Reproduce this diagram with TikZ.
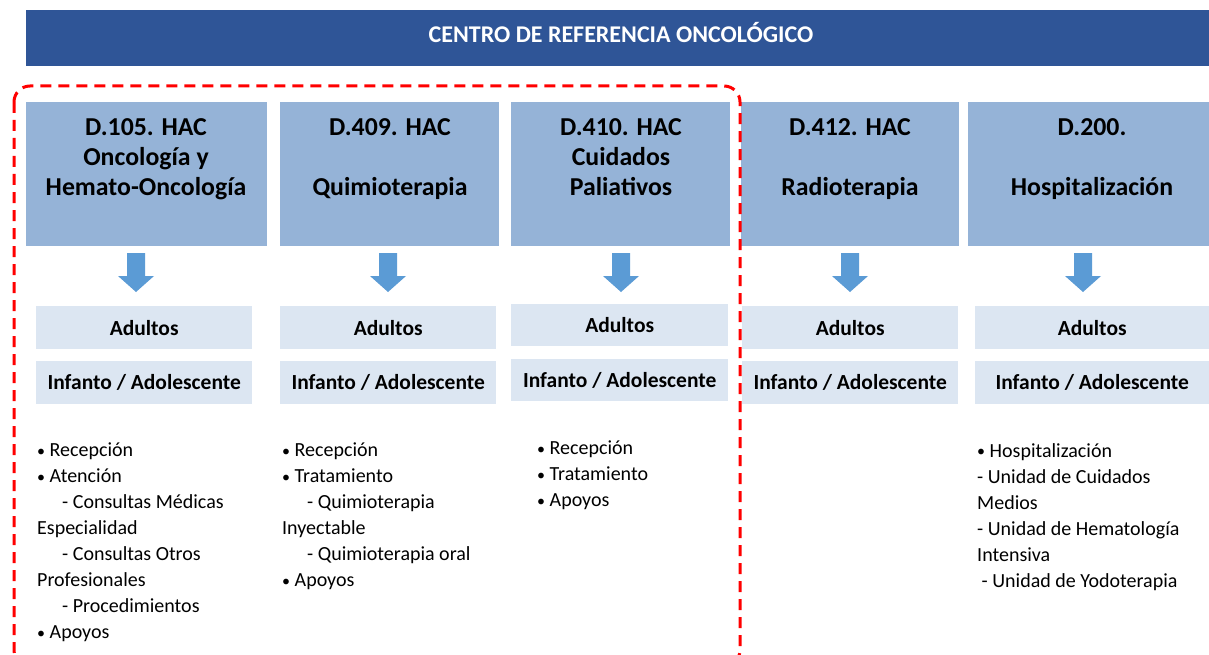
\documentclass[tikz,border=0pt]{standalone}
\usepackage{fontspec}
\setmainfont{Carlito}
\usetikzlibrary{calc}
\definecolor{titlebg}{HTML}{2F5597}
\definecolor{topbox}{HTML}{95B3D7}
\definecolor{subbox}{HTML}{DCE6F2}
\definecolor{arrowc}{HTML}{5B9BD5}
\tikzset{
  unitbox/.style={fill=topbox, draw=none, inner sep=0pt, align=center, font=\bfseries\fontsize{25.8}{30}\selectfont},
  agebox/.style={fill=subbox, draw=none, inner sep=0pt, align=center, font=\bfseries\fontsize{21.5}{24}\selectfont},
  listtext/.style={anchor=north west, align=left, inner sep=0pt, font=\fontsize{20}{26}\selectfont},
  downarrow/.style={fill=arrowc, draw=none},
}
\newcommand{\ind}{\hspace*{1.25em}}
\newcommand{\bul}{\raisebox{0.5pt}{\fontsize{16}{16}\selectfont•}}
\begin{document}
\begin{tikzpicture}[x=1pt,y=-1pt]
\useasboundingbox (0,0) rectangle (1209,655);
\fill[white] (0,0) rectangle (1209,655);
% title
\node[fill=titlebg, minimum width=1183pt, minimum height=56pt, inner sep=0pt, anchor=north west] (title) at (26,10) {};
\node[text=white, inner sep=0pt, font=\bfseries\fontsize{24}{26}\selectfont] (titletext) at (621,33) {CENTRO DE REFERENCIA ONCOLÓGICO};
% top unit boxes
\node[unitbox, minimum width=241pt, minimum height=144pt, anchor=north west] (u1) at (26,102) {};
\node[unitbox, minimum width=219pt, minimum height=144pt, anchor=north west] (u2) at (280,102) {};
\node[unitbox, minimum width=219pt, minimum height=144pt, anchor=north west] (u3) at (511,102) {};
\node[unitbox, minimum width=218pt, minimum height=144pt, anchor=north west] (u4) at (741,102) {};
\node[unitbox, minimum width=241pt, minimum height=144pt, anchor=north west] (u5) at (968,102) {};
\node[unitbox, fill=none, anchor=north] (u1t) at (146,118) {D.105. HAC\\Oncología y\\Hemato-Oncología};
\node[unitbox, fill=none, anchor=north] (u2t) at (390,118) {D.409. HAC\\\mbox{}\\Quimioterapia};
\node[unitbox, fill=none, anchor=north] (u3t) at (621,118) {D.410. HAC\\Cuidados\\Paliativos};
\node[unitbox, fill=none, anchor=north] (u4t) at (850,118) {D.412. HAC\\\mbox{}\\Radioterapia};
\node[unitbox, fill=none, anchor=north] (u5t) at (1092,118) {D.200.\\\mbox{}\\Hospitalización};
% age boxes
\node[agebox, minimum width=216pt, minimum height=43pt, anchor=north west] (a1) at (36,306) {Adultos};
\node[agebox, minimum width=216pt, minimum height=43pt, anchor=north west] (i1) at (36,361) {Infanto / Adolescente};
\node[agebox, minimum width=216pt, minimum height=43pt, anchor=north west] (a2) at (280,306) {Adultos};
\node[agebox, minimum width=216pt, minimum height=43pt, anchor=north west] (i2) at (280,361) {Infanto / Adolescente};
\node[agebox, minimum width=217pt, minimum height=42pt, anchor=north west] (a3) at (511,304) {Adultos};
\node[agebox, minimum width=217pt, minimum height=42pt, anchor=north west] (i3) at (511,359) {Infanto / Adolescente};
\node[agebox, minimum width=216pt, minimum height=43pt, anchor=north west] (a4) at (742,306) {Adultos};
\node[agebox, minimum width=216pt, minimum height=43pt, anchor=north west] (i4) at (742,361) {Infanto / Adolescente};
\node[agebox, minimum width=234pt, minimum height=43pt, anchor=north west] (a5) at (975,306) {Adultos};
\node[agebox, minimum width=234pt, minimum height=43pt, anchor=north west] (i5) at (975,361) {Infanto / Adolescente};
% block arrows
\foreach \cx/\n in {136/1,388/2,621/3,850/4,1083/5}{
  \fill[downarrow] (\cx-9,253) -- (\cx+9,253) -- (\cx+9,276) -- (\cx+18,276) -- (\cx,292) -- (\cx-18,276) -- (\cx-9,276) -- cycle;
}
% lists
\node[listtext] (l1) at (37,443) {\bul{} Recepción\\\bul{} Atención\\\ind- Consultas Médicas\\Especialidad\\\ind- Consultas Otros\\Profesionales\\\ind- Procedimientos\\\bul{} Apoyos};
\node[listtext] (l2) at (282,443) {\bul{} Recepción\\\bul{} Tratamiento\\\ind- Quimioterapia\\Inyectable\\\ind- Quimioterapia oral\\\bul{} Apoyos};
\node[listtext] (l3) at (537,441) {\bul{} Recepción\\\bul{} Tratamiento\\\bul{} Apoyos};
\node[listtext] (l5) at (977,443) {\bul{} Hospitalización\\- Unidad de Cuidados\\Medios\\- Unidad de Hematología\\Intensiva\\\ - Unidad de Yodoterapia};
% red dashed group
\draw[red, line width=3pt, dash pattern=on 11pt off 7pt, rounded corners=16pt] (14,86) rectangle (740,666);
\end{tikzpicture}
\end{document}
